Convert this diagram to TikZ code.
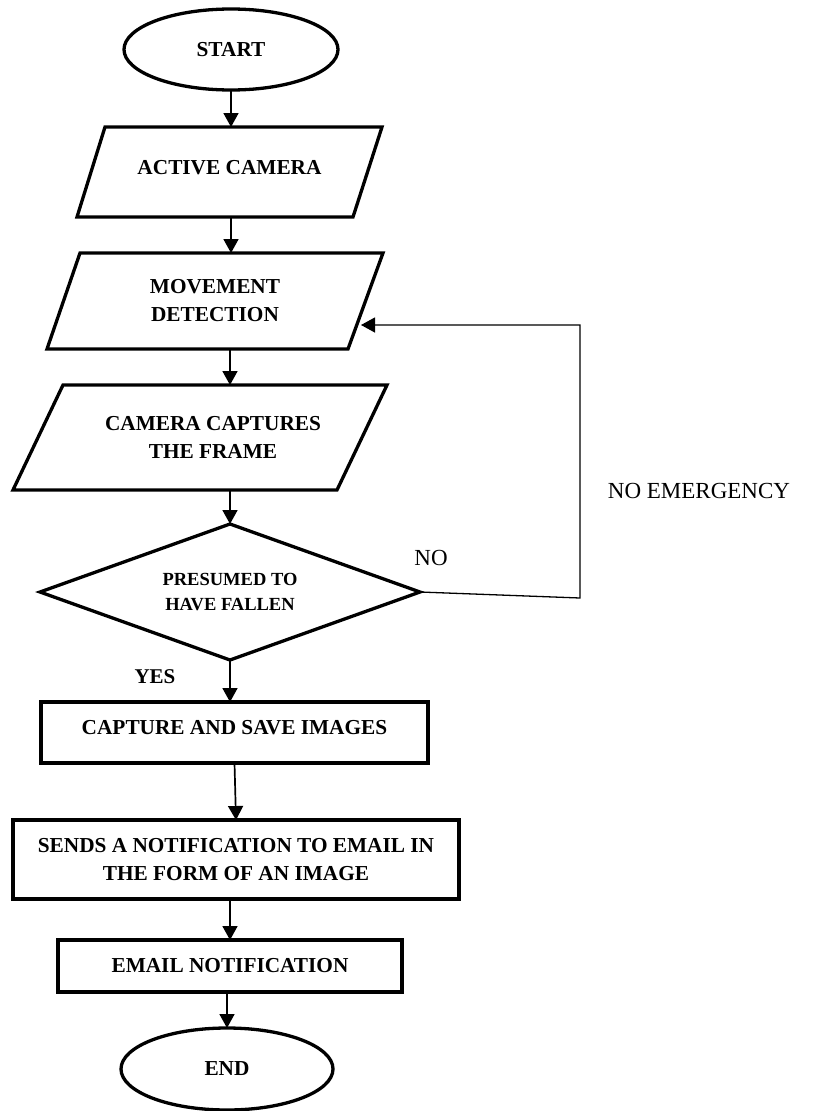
\documentclass[tikz,border=0pt]{standalone}
\usepackage{fontspec}
\setmainfont{Liberation Serif}
\usetikzlibrary{shapes.geometric,arrows.meta,calc}
\begin{document}
\begin{tikzpicture}[x=1pt,y=-1pt,
  shapeline/.style={line width=3.3pt,line join=miter},
  boxtext/.style={font=\fontsize{21.3}{28}\selectfont\bfseries,align=center,inner sep=0pt,outer sep=0pt},
  ovalbox/.style={boxtext,ellipse,draw,shapeline,minimum width=214pt,minimum height=81pt},
  rectbox/.style={boxtext,rectangle,draw,shapeline},
  pgbox/.style={boxtext,rectangle,draw=none},
  diabox/.style={font=\fontsize{18.5}{25}\selectfont\bfseries,align=center,inner sep=0pt,outer sep=0pt,rectangle,draw=none,minimum width=380pt,minimum height=136pt},
  arr/.style={line width=1.7pt,-{Triangle[length=14pt,width=15pt]}},
  fbarr/.style={line width=1.3pt,-{Triangle[length=14pt,width=15pt]}},
  lbl/.style={font=\fontsize{23}{28}\selectfont,inner sep=0pt},
  lblb/.style={font=\fontsize{21}{28}\selectfont\bfseries,inner sep=0pt}]
\useasboundingbox (0,0) rectangle (817,1111);
\fill[white] (0,0) rectangle (817,1111);

% nodes
\node[ovalbox] (start) at (231,49.5) {START};
\node[pgbox,minimum width=305pt,minimum height=90pt,text height=14pt,text depth=10pt] (act) at (229.5,172) {ACTIVE CAMERA};
\node[pgbox,minimum width=336pt,minimum height=96pt] (move) at (215,301) {MOVEMENT\\DETECTION};
\node[pgbox,minimum width=374pt,minimum height=105pt] (capt) at (200,437.5) {\hspace*{26pt}CAMERA CAPTURES\\\hspace*{26pt}THE FRAME};
\node[diabox] (dia) at (230,592) {PRESUMED TO\\HAVE FALLEN};
\node[rectbox,minimum width=387pt,minimum height=61pt,text height=14pt,text depth=10pt] (cas) at (234.5,732.5) {CAPTURE AND SAVE IMAGES};
\node[rectbox,minimum width=446pt,minimum height=79pt] (sends) at (236,859.5) {SENDS A NOTIFICATION TO EMAIL IN\\THE FORM OF AN IMAGE};
\node[rectbox,minimum width=344pt,minimum height=52pt] (email) at (230,966) {EMAIL NOTIFICATION};
\node[ovalbox,minimum width=212pt,minimum height=82pt] (end) at (227,1069) {END};

% shapes drawn around the text nodes
\draw[shapeline] ([xshift=28pt]act.north west) -- (act.north east) -- ([xshift=-29pt]act.south east) -- (act.south west) -- cycle;
\draw[shapeline] ([xshift=33pt]move.north west) -- (move.north east) -- ([xshift=-35pt]move.south east) -- (move.south west) -- cycle;
\draw[shapeline] ([xshift=50pt]capt.north west) -- (capt.north east) -- ([xshift=-50pt]capt.south east) -- (capt.south west) -- cycle;
\draw[shapeline] (dia.north) -- (dia.east) -- (dia.south) -- (dia.west) -- cycle;

% labels
\node[lbl] (no) at (431,558) {NO};
\node[lblb] (yes) at (155,677) {YES};
\node[lbl] (noem) at (699,491) {NO EMERGENCY};

% connectors
\draw[arr] (start.south) -- (start.south |- act.north);
\draw[arr] ([xshift=1.5pt]act.south) -- ([xshift=1.5pt]act.south |- move.north);
\draw[arr] (dia.north |- move.south) -- (dia.north |- capt.north);
\draw[arr] (dia.north |- capt.south) -- (dia.north);
\draw[arr] (dia.south) -- (dia.south |- cas.north);
\draw[arr] (cas.south) -- (sends.north);
\draw[arr] (email.north |- sends.south) -- (email.north);
\draw[arr] (end.north |- email.south) -- (end.north);

\coordinate (fb1) at (580,598);
\coordinate (fbin) at (361,325);
\draw[fbarr] (dia.east) -- (fb1) -- (fb1 |- fbin) -- (fbin);
\end{tikzpicture}
\end{document}
